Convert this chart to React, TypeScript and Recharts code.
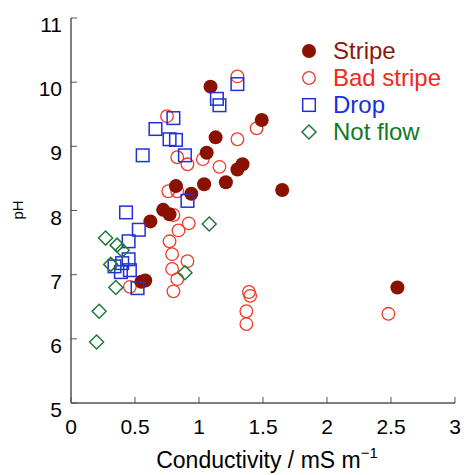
import { ScatterChart, Scatter, XAxis, YAxis } from 'recharts';

// conductivity (mS/m) vs pH
const stripe = [
  { x: 1.09, y: 9.93 }, { x: 1.49, y: 9.41 }, { x: 1.13, y: 9.14 }, { x: 1.06, y: 8.9 },
  { x: 1.34, y: 8.72 }, { x: 1.3, y: 8.64 }, { x: 1.21, y: 8.44 }, { x: 1.65, y: 8.32 },
  { x: 1.04, y: 8.41 }, { x: 0.94, y: 8.26 }, { x: 0.82, y: 8.38 }, { x: 0.72, y: 8.01 },
  { x: 0.77, y: 7.94 }, { x: 0.62, y: 7.83 }, { x: 0.55, y: 6.89 }, { x: 0.58, y: 6.91 },
  { x: 2.55, y: 6.8 },
];

const badStripe = [
  { x: 1.3, y: 10.09 }, { x: 0.75, y: 9.47 }, { x: 1.45, y: 9.28 }, { x: 1.3, y: 9.11 },
  { x: 1.03, y: 8.8 }, { x: 1.16, y: 8.68 }, { x: 0.91, y: 8.72 }, { x: 0.83, y: 8.83 },
  { x: 0.76, y: 8.3 }, { x: 0.83, y: 8.3 }, { x: 0.8, y: 7.93 }, { x: 0.92, y: 7.8 },
  { x: 0.84, y: 7.69 }, { x: 0.77, y: 7.52 }, { x: 0.79, y: 7.32 }, { x: 0.91, y: 7.21 },
  { x: 0.79, y: 7.09 }, { x: 0.83, y: 6.93 }, { x: 0.8, y: 6.74 }, { x: 0.46, y: 6.81 },
  { x: 1.39, y: 6.73 }, { x: 1.4, y: 6.67 }, { x: 1.37, y: 6.43 }, { x: 1.37, y: 6.23 },
  { x: 2.48, y: 6.39 },
];

const drop = [
  { x: 1.3, y: 9.97 }, { x: 1.14, y: 9.74 }, { x: 1.16, y: 9.64 }, { x: 0.8, y: 9.44 },
  { x: 0.66, y: 9.27 }, { x: 0.77, y: 9.11 }, { x: 0.82, y: 9.1 }, { x: 0.89, y: 8.86 },
  { x: 0.56, y: 8.86 }, { x: 0.91, y: 8.15 }, { x: 0.43, y: 7.97 }, { x: 0.53, y: 7.7 },
  { x: 0.45, y: 7.52 }, { x: 0.45, y: 7.24 }, { x: 0.46, y: 7.07 }, { x: 0.39, y: 7.04 },
  { x: 0.34, y: 7.13 }, { x: 0.4, y: 7.18 }, { x: 0.52, y: 6.79 },
];

const notFlow = [
  { x: 0.27, y: 7.57 }, { x: 0.36, y: 7.46 }, { x: 0.4, y: 7.38 }, { x: 0.31, y: 7.16 },
  { x: 0.35, y: 6.8 }, { x: 0.22, y: 6.43 }, { x: 0.2, y: 5.95 }, { x: 1.08, y: 7.79 },
  { x: 0.89, y: 7.03 },
];

const xTicks = [0, 0.5, 1, 1.5, 2, 2.5, 3];
const yTicks = [5, 6, 7, 8, 9, 10, 11];

const COLORS = {
  stripe: '#8a1100',
  badStripe: '#f03a28',
  drop: '#2030d8',
  notFlow: '#1f7a38',
};
const TEXT_COLORS = {
  stripe: '#8a1a10',
  badStripe: '#ee2a1a',
  drop: '#1a2fe0',
  notFlow: '#0f7a28',
};

const FONT = '"Liberation Sans", Arial, sans-serif';
const AXIS = '#555';
const TICK_FONT = 21;

const StripeShape = (p: any) => <circle cx={p.cx} cy={p.cy} r={7} fill={COLORS.stripe} />;
const BadShape = (p: any) => (
  <circle cx={p.cx} cy={p.cy} r={6.3} fill="none" stroke={COLORS.badStripe} strokeWidth={1.3} />
);
const DropShape = (p: any) => (
  <rect x={p.cx - 6.3} y={p.cy - 6.3} width={12.6} height={12.6} fill="none" stroke={COLORS.drop} strokeWidth={1.5} />
);
const DiamondShape = (p: any) => (
  <path
    d={`M${p.cx},${p.cy - 7} L${p.cx + 7},${p.cy} L${p.cx},${p.cy + 7} L${p.cx - 7},${p.cy} Z`}
    fill="none"
    stroke={COLORS.notFlow}
    strokeWidth={1.5}
  />
);

const legendItems = [
  { name: 'Stripe', key: 'stripe' },
  { name: 'Bad stripe', key: 'badStripe' },
  { name: 'Drop', key: 'drop' },
  { name: 'Not flow', key: 'notFlow' },
] as const;

function LegendMarker({ kind }: { kind: string }) {
  const shapes: Record<string, any> = {
    stripe: <StripeShape cx={9} cy={9} />,
    badStripe: <BadShape cx={9} cy={9} />,
    drop: <DropShape cx={9} cy={9} />,
    notFlow: <DiamondShape cx={9} cy={9} />,
  };
  return (
    <svg width={18} height={18} style={{ display: 'block' }}>
      {shapes[kind]}
    </svg>
  );
}

// legend sits over the plot, so it's drawn as an overlay instead of taking chart space
function ChartLegend() {
  return (
    <div style={{ position: 'absolute', left: 300, top: 37, fontFamily: FONT }}>
      {legendItems.map((it) => (
        <div key={it.key} style={{ display: 'flex', alignItems: 'center', height: 27 }}>
          <LegendMarker kind={it.key} />
          <span style={{ marginLeft: 15, fontSize: 24, color: TEXT_COLORS[it.key], lineHeight: '27px' }}>
            {it.name}
          </span>
        </div>
      ))}
    </div>
  );
}

// labels in the original sit a bit below their tick marks
function YTick(p: any) {
  return (
    <text x={p.x} y={p.y} dy={14} textAnchor="end" fontSize={TICK_FONT} fontFamily={FONT} fill="#000">
      {p.payload.value}
    </text>
  );
}

function XTick(p: any) {
  return (
    <text x={p.x} y={p.y} dy={15} textAnchor="middle" fontSize={TICK_FONT} fontFamily={FONT} fill="#000">
      {p.payload.value}
    </text>
  );
}

function XLabel(props: any) {
  const vb = props.viewBox || {};
  return (
    <text x={vb.x + vb.width / 2 + 4} y={468} textAnchor="middle" fontSize={23} fontFamily={FONT} fill="#000">
      Conductivity / mS m
      <tspan dy={-10} fontSize={15}>−1</tspan>
    </text>
  );
}

function YLabel() {
  const cy = 210;
  return (
    <text x={23} y={cy} transform={`rotate(-90, 23, ${cy})`} textAnchor="middle" fontSize={15} fontFamily={FONT} fill="#000">
      pH
    </text>
  );
}

export default function App() {
  return (
    <div style={{ position: 'absolute', left: 0, top: 0, background: '#fff' }}>
      <ScatterChart width={464} height={475} margin={{ top: 18, right: 9, bottom: 0, left: 0 }}>
        <XAxis
          xAxisId="main"
          type="number"
          dataKey="x"
          domain={[0, 3]}
          ticks={xTicks}
          interval={0}
          height={72}
          tick={<XTick />}
          tickSize={-6}
          tickMargin={22}
          tickLine={{ stroke: AXIS }}
          axisLine={{ stroke: AXIS, strokeWidth: 1.5 }}
          label={<XLabel />}
        />
        <XAxis xAxisId="top" orientation="top" type="number" domain={[0, 3]} height={0} tick={false} tickLine={false} axisLine={{ stroke: AXIS, strokeWidth: 1.5 }} />
        <YAxis
          yAxisId="main"
          type="number"
          dataKey="y"
          domain={[5, 11]}
          ticks={yTicks}
          interval={0}
          width={71}
          tick={<YTick />}
          tickSize={-6}
          tickMargin={15}
          tickLine={{ stroke: AXIS }}
          axisLine={{ stroke: AXIS, strokeWidth: 1.5 }}
          label={<YLabel />}
        />
        <YAxis yAxisId="right" orientation="right" type="number" domain={[5, 11]} width={0} tick={false} tickLine={false} axisLine={{ stroke: AXIS, strokeWidth: 1.5 }} />
        <Scatter name="Bad stripe" data={badStripe} xAxisId="main" yAxisId="main" shape={BadShape} isAnimationActive={false} />
        <Scatter name="Stripe" data={stripe} xAxisId="main" yAxisId="main" shape={StripeShape} isAnimationActive={false} />
        <Scatter name="Drop" data={drop} xAxisId="main" yAxisId="main" shape={DropShape} isAnimationActive={false} />
        <Scatter name="Not flow" data={notFlow} xAxisId="main" yAxisId="main" shape={DiamondShape} isAnimationActive={false} />
      </ScatterChart>
      <ChartLegend />
    </div>
  );
}
